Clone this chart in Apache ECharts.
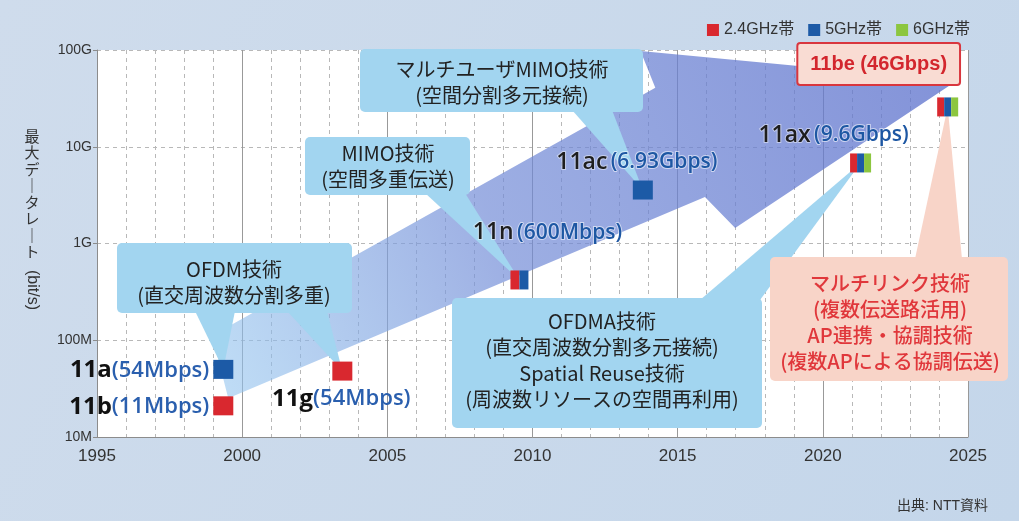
<!DOCTYPE html>
<html>
<head>
<meta charset="utf-8">
<script src="https://cdn.jsdelivr.net/npm/echarts@6.0.0/dist/echarts.min.js"></script>
<style>
  html, body { margin: 0; padding: 0; }
  #main { width: 1019px; height: 521px; }
</style>
</head>
<body>
<div id="main"></div>
<script>
// Wi-Fi standards: position (year, bit/s on the log axis)
const standards = ["11b", "11a", "11g", "11n", "11ac", "11ax", "11be"];
const rates = ["(11Mbps)", "(54Mbps)", "(54Mbps)", "(600Mbps)", "(6.93Gbps)", "(9.6Gbps)", "(46Gbps)"];
const years = [1999.35, 1999.35, 2003.45, 2009.55, 2013.8, 2021.3, 2024.3];
const plotted = [2.1e7, 5.0e7, 4.8e7, 4.2e8, 3.57e9, 6.8e9, 2.58e10];
// frequency bands per standard
const has24 = [1, 0, 1, 1, 0, 1, 1];
const has5 = [0, 1, 0, 1, 1, 1, 1];
const has6 = [0, 0, 0, 0, 0, 1, 1];
const bandNames = ["2.4GHz帯", "5GHz帯", "6GHz帯"];
const yTickLabels = ["10M", "100M", "1G", "10G", "100G"];

const bandColors = ["#d9282f", "#1c5aa6", "#8cc63f"];
const bandFlags = [has24, has5, has6];
const CJK = '"Noto Sans CJK JP", sans-serif';
const LAT = '"Liberation Sans", "Noto Sans CJK JP", sans-serif';
const OPEN = '"Open Sans", sans-serif';

const chart = echarts.init(document.getElementById("main"));

// one stripe per band inside each marker square
function bandData(b) {
    const out = [];
    standards.forEach((s, i) => {
        if (!bandFlags[b][i]) return;
        const present = [0, 1, 2].filter(k => bandFlags[k][i]);
        const n = present.length;
        const w = n === 1 ? 20 : n === 2 ? 9 : 7;
        const k = present.indexOf(b);
        out.push({
            value: [years[i], plotted[i]],
            symbolSize: [w, 19],
            symbolOffset: [(k - (n - 1) / 2) * w, 0],
        });
    });
    return out;
}

// label placement relative to the marker (pixels)
const labelPlace = {
    "11b": { offset: [-14, 1], align: "right", big: true },
    "11a": { offset: [-14, 1], align: "right", big: true },
    "11g": { offset: [-1, 28], align: "center", big: true },
    "11n": { offset: [28, -47], align: "center" },
    "11ac": { offset: [-6, -28], align: "center" },
    "11ax": { offset: [-27, -28], align: "center" },
};

const labelData = standards.map((s, i) => {
    if (s === "11be") {
        return {
            value: [years[i], plotted[i]],
            label: {
                show: true, position: "inside", offset: [-69, -43],
                formatter: s + " " + rates[i],
                fontFamily: '"Liberation Sans", sans-serif', fontSize: 20, fontWeight: "bold",
                color: "#d3262d", backgroundColor: "#f9dcd3",
                textBorderWidth: 0,
                borderColor: "#d9363e", borderWidth: 2, borderRadius: 2,
                padding: [11, 12, 9, 12],
            },
        };
    }
    const p = labelPlace[s];
    const f = p.big ? "{s|" + s + "}{r|" + rates[i] + "}" : "{t|" + s + "} {q|" + rates[i] + "}";
    return {
        value: [years[i], plotted[i]],
        label: { show: true, position: "inside", offset: p.offset, align: p.align, formatter: f },
    };
});

const arrowFill = new echarts.graphic.LinearGradient(0, 1, 1, 0, [
    { offset: 0, color: "rgba(150,200,240,0.6)" },
    { offset: 0.4, color: "rgba(115,140,215,0.7)" },
    { offset: 1, color: "rgba(95,115,205,0.78)" },
]);

const option = {
    animation: false,
    backgroundColor: {
        type: "linear", x: 0, y: 0, x2: 1, y2: 1,
        colorStops: [{ offset: 0, color: "#cfdcec" }, { offset: 1, color: "#c4d6ea" }],
    },
    legend: {
        data: bandNames,
        right: 44, top: 17,
        icon: "rect", itemWidth: 12, itemHeight: 12, itemGap: 14,
        selectedMode: false,
        textStyle: { fontFamily: LAT, fontSize: 16, color: "#333" },
    },
    grid: {
        left: 97, right: 51, top: 50, bottom: 84,
        show: true, backgroundColor: "#ffffff", borderWidth: 0,
    },
    xAxis: {
        type: "value", min: 1995, max: 2025, interval: 5,
        axisLine: { lineStyle: { color: "#8c8c8c" } },
        axisTick: { show: false },
        axisLabel: { fontFamily: LAT, fontSize: 17, color: "#333", margin: 11, formatter: v => String(v) },
        splitLine: { show: true, lineStyle: { color: "#999", width: 1 } },
        minorTick: { show: false, splitNumber: 5 },
        minorSplitLine: { show: true, lineStyle: { color: "#b8b8b8", type: [4, 4] } },
    },
    yAxis: {
        type: "log", logBase: 10, min: 1e7, max: 1e11,
        axisLine: { show: true, lineStyle: { color: "#8c8c8c" } },
        axisTick: { show: true, length: 4, lineStyle: { color: "#8c8c8c" } },
        axisLabel: {
            fontFamily: LAT, fontSize: 14, color: "#333", margin: 5,
            formatter: v => yTickLabels[Math.round(Math.log10(v)) - 7],
        },
        splitLine: { show: true, lineStyle: { color: "#b8b8b8", type: [4, 4] } },
    },
    series: [
        {
            type: "custom", z: 1, silent: true, data: [0],
            renderItem: (params, api) => {
                // broad trend arrow, outline in (year, log10 bit/s)
                const outline = [
                    [1999.52, 7.40], [2015.94, 9.48], [2016.98, 9.16], [2024.6, 10.68],
                    [2013.72, 10.99], [2014.23, 10.61], [1998.97, 8.05],
                ];
                const pts = outline.map(p => api.coord([p[0], Math.pow(10, p[1])]));
                return { type: "polygon", shape: { points: pts }, style: { fill: arrowFill } };
            },
        },
        ...bandNames.map((name, b) => ({
            name: name, type: "scatter", z: 20, symbol: "rect",
            itemStyle: { color: bandColors[b], opacity: 1 },
            emphasis: { disabled: true }, silent: true,
            data: bandData(b),
        })),
        {
            type: "scatter", z: 21, symbolSize: 0, silent: true,
            itemStyle: { color: "#000", opacity: 1 },
            emphasis: { disabled: true },
            label: {
                opacity: 1, color: "#222", textBorderWidth: 0, textBorderColor: "transparent",
                rich: {
                    s: { fontFamily: OPEN, fontSize: 24, fontWeight: 700, color: "#111", textBorderWidth: 0 },
                    r: { fontFamily: OPEN, fontSize: 22, fontWeight: 600, color: "#2a5fae", textBorderWidth: 0 },
                    t: {
                        fontFamily: OPEN, fontSize: 23, fontWeight: 600, color: "#1e1e1e",
                        textBorderColor: "rgba(255,255,255,0.45)", textBorderWidth: 2,
                    },
                    q: {
                        fontFamily: OPEN, fontSize: 21, fontWeight: 600, color: "#1d57a3",
                        textBorderColor: "rgba(255,255,255,0.55)", textBorderWidth: 2,
                    },
                },
            },
            data: labelData,
        },
    ],
};

chart.setOption(option);

// callout boxes with pointers to the markers
function px(i) {
    return chart.convertToPixel({ gridIndex: 0 }, [years[i], plotted[i]]);
}
const blue = "#a2d5f0";
const pink = "#f8d4c8";
const callouts = [
    { box: [360, 49, 283, 63], fill: blue, color: "#222", cx: 502, cy: 82,
      lines: ["マルチユーザMIMO技術", "(空間分割多元接続)"], ptr: [[[572, 110], [612, 110], 4]] },
    { box: [305, 137, 165, 58], fill: blue, color: "#222", cx: 388, cy: 166,
      lines: ["MIMO技術", "(空間多重伝送)"], ptr: [[[425, 193], [465, 193], 3]] },
    { box: [117, 243, 235, 70], fill: blue, color: "#222", cx: 234, cy: 282,
      lines: ["OFDM技術", "(直交周波数分割多重)"], ptr: [[[195, 311], [235, 311], 1], [[287, 311], [327, 311], 2]] },
    { box: [452, 298, 310, 130], fill: blue, color: "#222", cx: 602, cy: 360,
      lines: ["OFDMA技術", "(直交周波数分割多元接続)", "Spatial Reuse技術", "(周波数リソースの空間再利用)"],
      ptr: [[[700, 300], [760, 300], 5]] },
    { box: [770, 257, 238, 124], fill: pink, color: "#e0373b", cx: 890, cy: 322, weight: 500,
      lines: ["マルチリンク技術", "(複数伝送路活用)", "AP連携・協調技術", "(複数APによる協調伝送)"],
      ptr: [[[915, 259], [962, 259], 6]] },
];

const graphics = [];
callouts.forEach(c => {
    c.ptr.forEach(p => {
        graphics.push({
            type: "polygon", z: 5, silent: true,
            shape: { points: [p[0], p[1], px(p[2])] },
            style: { fill: c.fill },
        });
    });
    graphics.push({
        type: "rect", z: 5, silent: true,
        shape: { x: c.box[0], y: c.box[1], width: c.box[2], height: c.box[3], r: 5 },
        style: { fill: c.fill },
    });
    graphics.push({
        type: "text", z: 6, silent: true,
        style: {
            text: c.lines.join("\n"), x: c.cx, y: c.cy,
            textAlign: "center", textVerticalAlign: "middle",
            font: (c.weight || 400) + " 20px " + CJK, lineHeight: 26, fill: c.color,
        },
    });
});

// vertical axis name
graphics.push({
    type: "text", z: 6, silent: true,
    style: {
        text: "最\n大\nデ\n｜\nタ\nレ\n｜\nト", x: 32, y: 128,
        textAlign: "center", textVerticalAlign: "top",
        font: "15px " + CJK, lineHeight: 16.5, fill: "#333",
    },
});
graphics.push({
    type: "text", z: 6, silent: true, x: 32, y: 290, rotation: -Math.PI / 2,
    style: {
        text: "(bit/s)", x: 0, y: 0, textAlign: "center", textVerticalAlign: "middle",
        font: "16px " + LAT, fill: "#333",
    },
});
// source note
graphics.push({
    type: "text", z: 6, silent: true,
    style: {
        text: "出典: NTT資料", x: 988, y: 506, textAlign: "right", textVerticalAlign: "middle",
        font: "14px " + LAT, fill: "#333",
    },
});

chart.setOption({ graphic: graphics });
</script>
</body>
</html>
